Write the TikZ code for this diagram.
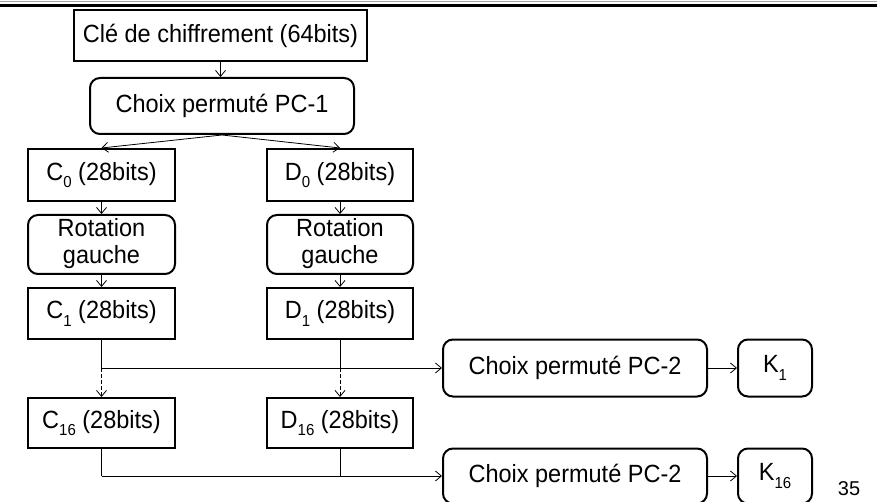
\documentclass[tikz,border=0pt]{standalone}
\usepackage{fontspec}
\usepackage{graphicx}
\setmainfont{Liberation Sans}
\usetikzlibrary{arrows.meta}
\newcommand{\lowidx}[1]{\raisebox{-0.3em}{\fontsize{15}{15}\selectfont #1}}
\newcommand{\vs}[1]{\scalebox{1}[1.06]{#1}}
\begin{document}
\begin{tikzpicture}[x=1pt,y=-1pt,
  box/.style={draw,line width=2pt,inner sep=0pt,align=center,font=\fontsize{23.5}{25}\selectfont},
  sqbox/.style={box},
  rbox/.style={box,rounded corners=10pt},
  conn/.style={line width=0.8pt},
  arr/.style={conn,-{Straight Barb[length=6pt,width=10pt,line width=0.8pt]}},
  dashln/.style={dash pattern=on 3.5pt off 2.5pt}]
\useasboundingbox (0,0) rectangle (877,502);
% top rules
\draw[line width=1.2pt,gray!70] (0,1.5) -- (877,1.5);
\draw[line width=3pt,black] (0,5.5) -- (877,5.5);
% nodes
\node[sqbox,minimum width=293pt,minimum height=51pt] (key) at (220.5,35.5) {\vs{Clé de chiffrement (64bits)}};
\node[rbox,minimum width=264pt,minimum height=56pt] (pc1) at (222,106) {\vs{Choix permuté PC-1}};
\node[sqbox,minimum width=147pt,minimum height=52pt] (c0) at (101.5,175) {\vs{C\lowidx{0} (28bits)}};
\node[sqbox,minimum width=146pt,minimum height=52pt] (d0) at (340,175) {\vs{D\lowidx{0} (28bits)}};
\node[rbox,minimum width=147pt,minimum height=59pt] (rc) at (101.5,244.5) {\vs{\begin{tabular}{@{}c@{}}Rotation\\gauche\end{tabular}}};
\node[rbox,minimum width=146pt,minimum height=59pt] (rd) at (340,244.5) {\vs{\begin{tabular}{@{}c@{}}Rotation\\gauche\end{tabular}}};
\node[sqbox,minimum width=147pt,minimum height=51pt] (c1) at (101.5,313.5) {\vs{C\lowidx{1} (28bits)}};
\node[sqbox,minimum width=146pt,minimum height=51pt] (d1) at (340,313.5) {\vs{D\lowidx{1} (28bits)}};
\node[sqbox,minimum width=147pt,minimum height=50pt] (c16) at (101.5,423) {\vs{C\lowidx{16} (28bits)}};
\node[sqbox,minimum width=146pt,minimum height=50pt] (d16) at (340,423) {\vs{D\lowidx{16} (28bits)}};
\node[rbox,minimum width=264pt,minimum height=57pt] (pc2a) at (575,368) {\vs{Choix permuté PC-2}};
\node[rbox,minimum width=74pt,minimum height=57pt] (k1) at (775,368) {\vs{K\lowidx{1}}};
\node[rbox,minimum width=264pt,minimum height=55pt] (pc2b) at (575,476) {\vs{Choix permuté PC-2}};
\node[rbox,minimum width=74pt,minimum height=55pt] (k16) at (775,476) {\vs{K\lowidx{16}}};
\node[font=\fontsize{20}{20}\selectfont,inner sep=0pt] (num) at (849,489) {35};
% junctions
\coordinate (j1) at (101.5,368);
\coordinate (j2) at (340,368);
\coordinate (j3) at (101.5,476);
\coordinate (j4) at (340,476);
% connectors
\draw[arr] (key.south) -- (key.south |- pc1.north);
\draw[arr] (pc1.south) -- (c0.north);
\draw[arr] (pc1.south) -- (d0.north);
\draw[arr] (c0) -- (rc);
\draw[arr] (d0) -- (rd);
\draw[arr] (rc) -- (c1);
\draw[arr] (rd) -- (d1);
\draw[conn] (c1.south) -- (j1);
\draw[conn] (d1.south) -- (j2);
\draw[arr,dashln] (j1) -- (c16.north);
\draw[arr,dashln] (j2) -- (d16.north);
\draw[arr] (j1) -- (pc2a.west);
\draw[conn] (c16.south) -- (j3);
\draw[conn] (d16.south) -- (j4);
\draw[arr] (j3) -- (pc2b.west);
\draw[arr] (pc2a) -- (k1);
\draw[arr] (pc2b) -- (k16);
\end{tikzpicture}
\end{document}
